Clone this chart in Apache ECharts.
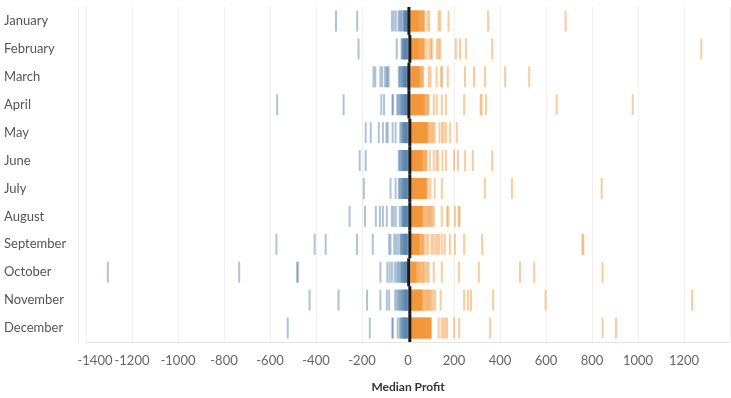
<!DOCTYPE html>
<html>
<head>
<meta charset="utf-8">
<script src="https://cdn.jsdelivr.net/npm/echarts@6/dist/echarts.min.js"></script>
<style>
html,body{margin:0;padding:0;background:#fff;}
#chart{width:731px;height:398px;}
</style>
</head>
<body>
<div id="chart"></div>
<script>
const months = ["January","February","March","April","May","June","July","August","September","October","November","December"];
const xTicks = [-1400,-1200,-1000,-800,-600,-400,-200,0,200,400,600,800,1000,1200];

const janNeg = [-313,-221,-70,-62,-53,-41,-36,-31,-26,-19,-17,-15,-13,-11,-9,-7,-5,-3,-1];
const janPos = [11,13,15,17,19,21,23,25,27,29,31,33,35,37,39,41,43,45,47,50,53,56,59,62,65,68,71,84,92,133,140,176,348,685];
const febNeg = [-215,-49,-28,-25,-22,-19,-17,-15,-13,-11,-9,-7,-5,-3,-1];
const febPos = [13,15,17,19,21,23,25,27,29,31,33,35,37,39,41,43,45,47,50,53,56,59,62,65,68,71,80,92,100,104,126,134,140,208,226,252,366,1275];
const marNeg = [-150,-142,-120,-112,-100,-92,-90,-84,-40,-36,-32,-28,-25,-22,-19,-17,-15,-13,-11,-9,-7,-5,-3,-1];
const marPos = [12,14,16,18,20,22,24,26,28,30,32,34,36,38,40,42,44,46,48,50,54,58,62,66,90,98,124,144,148,173,248,287,335,422,527];
const aprNeg = [-569,-280,-116,-104,-67,-66,-47,-42,-37,-33,-29,-26,-23,-20,-17,-15,-13,-11,-9,-7,-5,-3,-1];
const aprPos = [12,14,16,18,20,22,24,26,28,30,32,34,36,38,40,42,44,46,48,50,52,54,56,58,60,62,64,66,68,70,74,78,82,86,89,112,125,147,165,244,316,320,339,646,977];
const mayNeg = [-184,-162,-127,-109,-94,-88,-67,-54,-34,-29,-25,-22,-19,-17,-15,-13,-11,-9,-7,-5,-3,-1];
const mayPos = [12,14,16,18,20,22,24,26,28,30,32,34,36,38,40,42,44,46,48,50,52,54,56,58,60,62,64,66,68,70,72,74,76,78,80,82,84,86,92,98,104,110,116,137,148,155,165,182,212];
const junNeg = [-210,-184,-40,-36,-32,-28,-25,-22,-19,-17,-15,-13,-11,-9,-7,-5,-3,-1];
const junPos = [12,14,16,18,20,22,24,26,28,30,32,34,36,38,40,42,44,46,48,50,52,54,56,58,60,62,66,70,74,78,82,95,112,124,130,150,165,200,217,248,282,366];
const julNeg = [-192,-76,-54,-40,-36,-32,-28,-25,-22,-19,-17,-15,-13,-11,-9,-7,-5,-3,-1];
const julPos = [12,14,16,18,20,22,24,26,28,30,32,34,36,38,40,42,44,46,48,50,52,54,56,58,60,62,64,66,68,70,72,74,76,78,80,86,97,116,147,334,452,842];
const augNeg = [-254,-187,-140,-122,-109,-92,-70,-62,-53,-36,-28,-25,-22,-19,-17,-15,-13,-11,-9,-7,-5,-3,-1];
const augPos = [12,14,16,18,20,22,24,26,28,30,32,34,36,38,40,42,44,46,48,50,52,54,56,58,60,62,66,71,76,81,86,91,96,101,106,112,147,170,175,204,220,224];
const sepNeg = [-572,-406,-358,-222,-153,-82,-76,-60,-52,-43,-34,-30,-27,-24,-21,-18,-16,-14,-12,-10,-8,-6,-4,-2];
const sepPos = [12,14,16,18,20,22,24,26,28,30,32,34,36,38,40,42,44,46,48,50,54,58,62,66,70,80,88,102,110,120,128,136,147,160,182,204,244,322,758,762];
const octNeg = [-1305,-734,-482,-479,-120,-90,-80,-70,-58,-50,-44,-38,-33,-29,-26,-23,-20,-17,-15,-13,-11,-9,-7,-5,-3,-1];
const octPos = [12,14,16,18,20,22,24,26,28,30,32,34,38,42,46,50,55,60,65,70,76,84,90,112,147,222,308,487,549,846];
const novNeg = [-428,-302,-178,-120,-92,-82,-56,-49,-43,-38,-34,-30,-26,-23,-20,-17,-15,-13,-11,-9,-7,-5,-3,-1];
const novPos = [12,14,16,18,20,22,24,26,28,30,32,34,36,38,40,42,44,46,48,50,52,54,56,58,60,62,67,72,77,82,87,92,97,102,110,118,142,244,261,274,370,598,1235];
const decNeg = [-523,-166,-68,-66,-45,-36,-32,-28,-25,-22,-19,-17,-15,-13,-11,-9,-7,-5,-3,-1];
const decPos = [12,14,16,18,20,22,24,26,28,30,32,34,36,38,40,42,44,46,48,50,52,54,56,58,60,62,64,66,68,70,72,74,76,78,80,82,84,86,88,90,92,94,96,98,100,133,146,154,162,170,200,222,357,846,904];
const medianLine = [4,8,4,4,8,8,8,8,8,3,8,8];

const negRows = [janNeg,febNeg,marNeg,aprNeg,mayNeg,junNeg,julNeg,augNeg,sepNeg,octNeg,novNeg,decNeg];
const posRows = [janPos,febPos,marPos,aprPos,mayPos,junPos,julPos,augPos,sepPos,octPos,novPos,decPos];

const negData = [], posData = [];
negRows.forEach((r,i)=>r.forEach(v=>negData.push([v, months[i]])));
posRows.forEach((r,i)=>r.forEach(v=>posData.push([v, months[i]])));
const lineData = medianLine.map((v,i)=>[v, months[i]]);

const chart = echarts.init(document.getElementById('chart'), null, {renderer:'canvas'});
const font = 'Lato, "Open Sans", "Noto Sans", sans-serif';
chart.setOption({
  animation:false,
  grid:{left:86, right:1, top:7, bottom:55},
  xAxis:{
    type:'value', min:-1400, max:1400, interval:200,
    name:'Median Profit', nameLocation:'middle', nameGap:39,
    nameTextStyle:{color:'#333', fontSize:12, fontWeight:'bold', fontFamily:font},
    axisLine:{show:true, lineStyle:{color:'#e6e6e6'}},
    axisTick:{show:false},
    splitLine:{show:true, lineStyle:{color:'#efefef', width:1}},
    axisLabel:{
      color:'#666', fontSize:13, fontFamily:font, margin:12,
      showMaxLabel:false,
      formatter:function(v){ if(xTicks.indexOf(v)<0) return ''; return v===-1400 ? '{a|'+v+'}' : String(v); },
      rich:{a:{padding:[0,0,0,18], color:'#666', fontSize:13, fontFamily:font}}
    }
  },
  yAxis:{
    type:'category', data:months, inverse:true,
    axisLine:{show:false}, axisTick:{show:false}, splitLine:{show:false},
    axisLabel:{align:'left', margin:82, color:'#555', fontSize:13, fontFamily:font}
  },
  graphic:[{type:'line', shape:{x1:78.5,y1:6,x2:78.5,y2:343}, style:{stroke:'#ececec', lineWidth:1}, silent:true}],
  series:[
    {type:'scatter', data:negData, symbol:'rect', symbolSize:[2,21], itemStyle:{color:'#4e79a7', opacity:0.45}, silent:true, large:false},
    {type:'scatter', data:posData, symbol:'rect', symbolSize:[2,21], itemStyle:{color:'#f28e2b', opacity:0.45}, silent:true, large:false},
    {type:'custom', data:lineData, silent:true, z:5,
      renderItem:function(params, api){
        const p = api.coord([api.value(0), api.value(1)]);
        const h = api.size([0,1])[1];
        return {type:'rect', shape:{x:p[0]-1.5, y:p[1]-h/2, width:3, height:h}, style:{fill:'#1a1a1a'}};
      }}
  ]
});
</script>
</body>
</html>
